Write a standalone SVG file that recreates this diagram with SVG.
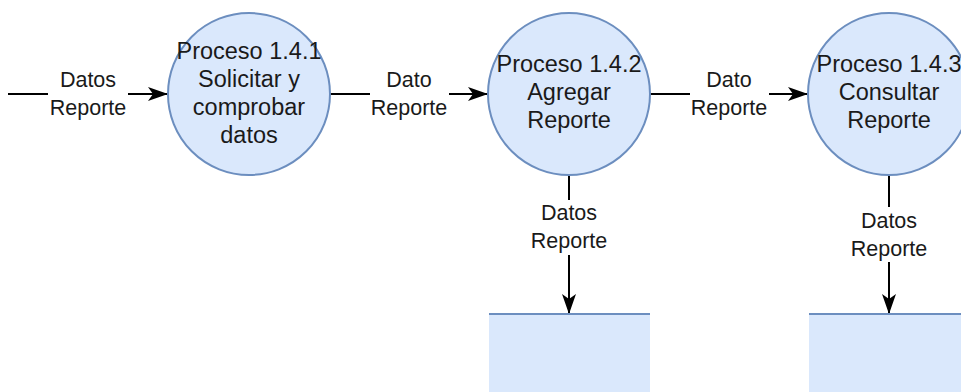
<svg xmlns="http://www.w3.org/2000/svg" width="961" height="392" viewBox="0 0 961 392">
  <style>
    .proc { fill: #dae8fc; stroke: #6c8ebf; stroke-width: 2; }
    .store { fill: #dae8fc; stroke: none; }
    .storeline { stroke: #6c8ebf; stroke-width: 2; fill: none; }
    .edge { stroke: #000; stroke-width: 2; fill: none; }
    .lblbg { fill: #fff; }
    .ptext { font-family: "Liberation Sans", Arial, sans-serif; font-size: 23.5px; fill: #1a1a1a; text-anchor: middle; }
    .etext { font-family: "Liberation Sans", Arial, sans-serif; font-size: 21.5px; fill: #1a1a1a; text-anchor: middle; }
  </style>
  <defs>
    <marker id="arrow" markerUnits="userSpaceOnUse" markerWidth="22" markerHeight="16" refX="20" refY="7" orient="auto">
      <path d="M0,0 L20,7 L0,14 L5,7 Z" fill="#000"/>
    </marker>
  </defs>
  <rect width="961" height="392" fill="#fff"/>

  <g id="connectors">
    <g id="e-in">
      <line class="edge" x1="8" y1="94" x2="168" y2="94" marker-end="url(#arrow)"/>
      <rect class="lblbg" x="48" y="66" width="80" height="56"/>
      <text class="etext" x="88" y="87">Datos</text>
      <text class="etext" x="88" y="115">Reporte</text>
    </g>
    <g id="e-1-2">
      <line class="edge" x1="330" y1="94" x2="488" y2="94" marker-end="url(#arrow)"/>
      <rect class="lblbg" x="370" y="66" width="79" height="56"/>
      <text class="etext" x="409" y="87">Dato</text>
      <text class="etext" x="409" y="115">Reporte</text>
    </g>
    <g id="e-2-3">
      <line class="edge" x1="650" y1="94" x2="808" y2="94" marker-end="url(#arrow)"/>
      <rect class="lblbg" x="690" y="66" width="79" height="56"/>
      <text class="etext" x="729" y="87">Dato</text>
      <text class="etext" x="729" y="115">Reporte</text>
    </g>
    <g id="e-2-store">
      <line class="edge" x1="569" y1="175" x2="569" y2="314" marker-end="url(#arrow)"/>
      <rect class="lblbg" x="529" y="200" width="80" height="55"/>
      <text class="etext" x="569" y="220">Datos</text>
      <text class="etext" x="569" y="248">Reporte</text>
    </g>
    <g id="e-3-store">
      <line class="edge" x1="889" y1="175" x2="889" y2="314" marker-end="url(#arrow)"/>
      <rect class="lblbg" x="849" y="207" width="80" height="55"/>
      <text class="etext" x="889" y="228">Datos</text>
      <text class="etext" x="889" y="256">Reporte</text>
    </g>
  </g>

  <g id="p141">
    <circle class="proc" cx="249" cy="94" r="81"/>
    <text class="ptext" x="249" y="59">Proceso 1.4.1</text>
    <text class="ptext" x="249" y="87">Solicitar y</text>
    <text class="ptext" x="249" y="115">comprobar</text>
    <text class="ptext" x="249" y="143">datos</text>
  </g>
  <g id="p142">
    <circle class="proc" cx="569" cy="94" r="81"/>
    <text class="ptext" x="569" y="72">Proceso 1.4.2</text>
    <text class="ptext" x="569" y="100">Agregar</text>
    <text class="ptext" x="569" y="128">Reporte</text>
  </g>
  <g id="p143">
    <circle class="proc" cx="889" cy="94" r="81"/>
    <text class="ptext" x="889" y="72">Proceso 1.4.3</text>
    <text class="ptext" x="889" y="100">Consultar</text>
    <text class="ptext" x="889" y="128">Reporte</text>
  </g>
  <g id="store1">
    <rect class="store" x="489" y="314" width="161" height="80"/>
    <line class="storeline" x1="489" y1="314" x2="650" y2="314"/>
  </g>
  <g id="store2">
    <rect class="store" x="809" y="314" width="161" height="80"/>
    <line class="storeline" x1="809" y1="314" x2="970" y2="314"/>
  </g>
</svg>
